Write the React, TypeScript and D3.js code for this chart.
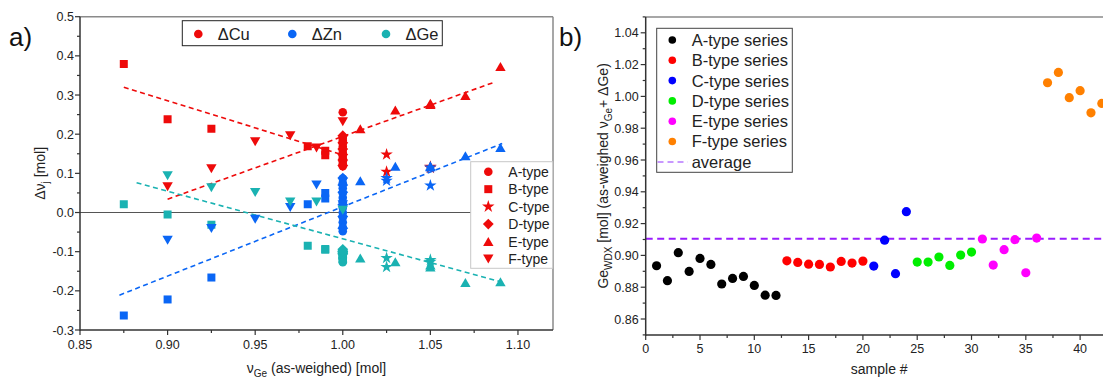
import React from "react";
import * as d3 from "d3";

// ---------- Panel a data ----------
const typeNames = ["A-type", "B-type", "C-type", "D-type", "E-type", "F-type"];
const elementNames = ["ΔCu", "ΔZn", "ΔGe"];
const elementColors = ["#ee0a0a", "#0a66f5", "#1ab2b2"];

const nuA = [1.0, 1.0, 1.0, 1.0, 1.0, 1.0, 1.0, 1.0, 1.0, 1.0, 1.0, 1.0];
const cuA = [0.256, 0.19, 0.183, 0.176, 0.168, 0.16, 0.152, 0.145, 0.138, 0.131, 0.124, 0.118];
const znA = [0.087, 0.075, 0.062, 0.05, 0.038, 0.026, 0.012, 0.0, -0.012, -0.025, -0.038, -0.048];
const geA = [-0.107, -0.116, -0.098, -0.11, -0.102, -0.106, -0.118, -0.115, -0.113, -0.119, -0.125, -0.127];

const nuB = [0.875, 0.9, 0.925, 0.98, 0.99, 0.99];
const cuB = [0.379, 0.238, 0.214, 0.169, 0.158, 0.146];
const znB = [-0.263, -0.222, -0.166, 0.021, 0.05, 0.036];
const geB = [0.021, -0.005, -0.031, -0.085, -0.095, -0.093];

const nuC = [1.025, 1.025, 1.05, 1.05];
const cuC = [0.148, 0.104, 0.117, 0.114];
const znC = [0.081, 0.088, 0.069, 0.115];
const geC = [-0.116, -0.139, -0.126, -0.121];

const nuD = [1.0, 1.0, 1.0, 1.0, 1.0, 1.0];
const cuD = [0.196, 0.178, 0.162, 0.148, 0.134, 0.12];
const znD = [0.088, 0.07, 0.052, 0.02, -0.01, -0.04];
const geD = [-0.094, -0.104, -0.101, -0.106, -0.1, -0.098];

const nuE = [1.01, 1.03, 1.05, 1.05, 1.07, 1.09];
const cuE = [0.214, 0.262, 0.279, 0.276, 0.299, 0.373];
const znE = [0.081, 0.118, 0.119, 0.117, 0.145, 0.166];
const geE = [-0.116, -0.126, -0.139, -0.134, -0.179, -0.177];

const nuF = [0.9, 0.925, 0.95, 0.97, 0.985, 1.0];
const cuF = [0.066, 0.112, 0.181, 0.196, 0.165, 0.232];
const znF = [-0.071, -0.041, -0.017, 0.013, 0.07, 0.02];
const geF = [0.094, 0.063, 0.051, 0.027, 0.027, 0.006];

// linear fits (end points)
const fitCuDownX = [0.875, 1.0];
const fitCuDownY = [0.32, 0.147];
const fitCuUpX = [0.9, 1.0873];
const fitCuUpY = [0.034, 0.334];
const fitZnX = [0.8725, 1.091];
const fitZnY = [-0.211, 0.176];
const fitGeX = [0.8823, 1.0903];
const fitGeY = [0.076, -0.177];

const xTicksA = [0.85, 0.9, 0.95, 1.0, 1.05, 1.1];
const xTickLabelsA = ["0.85", "0.90", "0.95", "1.00", "1.05", "1.10"];
const xMinorA = [0.875, 0.925, 0.975, 1.025, 1.075];
const yTicksA = [-0.3, -0.2, -0.1, 0.0, 0.1, 0.2, 0.3, 0.4, 0.5];
const yTickLabelsA = ["-0.3", "-0.2", "-0.1", "0.0", "0.1", "0.2", "0.3", "0.4", "0.5"];
const yMinorA = [-0.25, -0.15, -0.05, 0.05, 0.15, 0.25, 0.35, 0.45];

// ---------- Panel b data ----------
const seriesNamesB = ["A-type series", "B-type series", "C-type series", "D-type series", "E-type series", "F-type series"];
const seriesColorsB = ["#000000", "#ff0000", "#0000ff", "#00ee00", "#ff00ff", "#ff8000"];
const sampleA = [1, 2, 3, 4, 5, 6, 7, 8, 9, 10, 11, 12];
const geWdxA = [0.8935, 0.8841, 0.9017, 0.8899, 0.8981, 0.8943, 0.882, 0.8855, 0.8868, 0.8811, 0.875, 0.8748];
const sampleB = [13, 14, 15, 16, 17, 18, 19, 20];
const geWdxB = [0.8966, 0.8956, 0.8945, 0.8943, 0.8927, 0.8962, 0.8952, 0.8964];
const sampleC = [21, 22, 23, 24];
const geWdxC = [0.8933, 0.9096, 0.8885, 0.9275];
const sampleD = [25, 26, 27, 28, 29, 30];
const geWdxD = [0.8958, 0.8958, 0.899, 0.8937, 0.9002, 0.9021];
const sampleE = [31, 32, 33, 34, 35, 36];
const geWdxE = [0.9103, 0.8939, 0.9036, 0.9099, 0.8891, 0.9109];
const sampleF = [37, 38, 39, 40, 41, 42];
const geWdxF = [1.0086, 1.0151, 0.9992, 1.0036, 0.9897, 0.9956];
const averageB = 0.9105;

const xTicksB = [0, 5, 10, 15, 20, 25, 30, 35, 40];
const xMinorB = [2.5, 7.5, 12.5, 17.5, 22.5, 27.5, 32.5, 37.5, 42.5];
const yTicksB = [0.86, 0.88, 0.9, 0.92, 0.94, 0.96, 0.98, 1.0, 1.02, 1.04];
const yTickLabelsB = ["0.86", "0.88", "0.90", "0.92", "0.94", "0.96", "0.98", "1.00", "1.02", "1.04"];
const yMinorB = [0.85, 0.87, 0.89, 0.91, 0.93, 0.95, 0.97, 0.99, 1.01, 1.03, 1.05];

const FONT = "'Liberation Sans', Arial, sans-serif";
const AXIS = "#333";
const FRAME = "#8a8a8a";
const TXT = "#222";

function markerPath(type: number): string {
  switch (type) {
    case 0: {
      const r = 4.3;
      return `M${r},0A${r},${r} 0 1,1 ${-r},0A${r},${r} 0 1,1 ${r},0Z`;
    }
    case 1: {
      const s = 4;
      return `M${-s},${-s}H${s}V${s}H${-s}Z`;
    }
    case 2:
      return d3.symbol(d3.symbolStar, 48)() as string;
    case 3: {
      const s = 5.4;
      return `M0,${-s}L${s},0L0,${s}L${-s},0Z`;
    }
    case 4: {
      const w = 5.2, h = 4.5;
      return `M0,${-h}L${w},${h}L${-w},${h}Z`;
    }
    default: {
      const w = 5.2, h = 4.5;
      return `M0,${h}L${w},${-h}L${-w},${-h}Z`;
    }
  }
}

export default function App() {
  // Panel a scales
  const xa = d3.scaleLinear().domain([0.85, 1.12]).range([80, 553]);
  const ya = d3.scaleLinear().domain([-0.3, 0.5]).range([330, 16.7]);
  // Panel b scales
  const xb = d3.scaleLinear().domain([0, 43]).range([645.7, 1112.7]);
  const yb = d3.scaleLinear().domain([0.85, 1.05]).range([334.9, 16.9]);

  const typeData = [
    { nu: nuA, vals: [cuA, znA, geA] },
    { nu: nuB, vals: [cuB, znB, geB] },
    { nu: nuC, vals: [cuC, znC, geC] },
    { nu: nuD, vals: [cuD, znD, geD] },
    { nu: nuE, vals: [cuE, znE, geE] },
    { nu: nuF, vals: [cuF, znF, geF] },
  ];

  const fits = [
    { x: fitCuDownX, y: fitCuDownY, c: elementColors[0] },
    { x: fitCuUpX, y: fitCuUpY, c: elementColors[0] },
    { x: fitZnX, y: fitZnY, c: elementColors[1] },
    { x: fitGeX, y: fitGeY, c: elementColors[2] },
  ];
  const line = d3
    .line<[number, number]>()
    .x((d) => xa(d[0]))
    .y((d) => ya(d[1]));

  const seriesB = [
    { x: sampleA, y: geWdxA },
    { x: sampleB, y: geWdxB },
    { x: sampleC, y: geWdxC },
    { x: sampleD, y: geWdxD },
    { x: sampleE, y: geWdxE },
    { x: sampleF, y: geWdxF },
  ];

  const [ax0, ax1] = xa.range();
  const [ay0, ay1] = ya.range();
  const bx0 = xb.range()[0];
  const bx1 = 1103;
  const [by0, by1] = yb.range();

  return (
    <svg
      width={1103}
      height={379}
      style={{ position: "absolute", left: 0, top: 0, background: "#fff" }}
      fontFamily={FONT}
    >
      <rect x={0} y={0} width={1103} height={379} fill="#fff" />
      {/* ================= Panel a ================= */}
      <text x={9} y={46} fontSize={26} fill="#111">a)</text>
      <defs>
        <clipPath id="clipA">
          <rect x={ax0} y={ay1} width={ax1 - ax0} height={ay0 - ay1} />
        </clipPath>
        <clipPath id="clipB">
          <rect x={bx0} y={by1} width={bx1 - bx0} height={by0 - by1} />
        </clipPath>
      </defs>
      {/* frame */}
      <line x1={ax0} x2={ax1} y1={ay1} y2={ay1} stroke={FRAME} strokeWidth={1.5} />
      <line x1={ax1} x2={ax1} y1={ay1} y2={ay0} stroke={FRAME} strokeWidth={1.5} />
      {/* zero line */}
      <line x1={ax0} x2={ax1} y1={ya(0)} y2={ya(0)} stroke="#555" strokeWidth={1} />
      {/* fits */}
      <g clipPath="url(#clipA)">
        {fits.map((f, i) => (
          <path
            key={i}
            d={line(f.x.map((v, j) => [v, f.y[j]] as [number, number])) as string}
            fill="none"
            stroke={f.c}
            strokeWidth={1.6}
            strokeDasharray="5,3.5"
          />
        ))}
        {typeData.map((t, ti) =>
          t.vals.map((vals, ei) =>
            vals.map((v, k) => (
              <path
                key={`${ti}-${ei}-${k}`}
                d={markerPath(ti)}
                transform={`translate(${xa(t.nu[k])},${ya(v)})`}
                fill={elementColors[ei]}
              />
            ))
          )
        )}
      </g>
      {/* axes */}
      <line x1={ax0} x2={ax0} y1={ay1} y2={ay0 + 0.75} stroke={AXIS} strokeWidth={1.5} />
      <line x1={ax0} x2={ax1} y1={ay0} y2={ay0} stroke={AXIS} strokeWidth={1.5} />
      {yTicksA.map((t, i) => (
        <g key={`ya${i}`}>
          <line x1={ax0 - 5} x2={ax0} y1={ya(t)} y2={ya(t)} stroke={AXIS} strokeWidth={1.2} />
          <text x={ax0 - 6} y={ya(t)} dy="0.36em" textAnchor="end" fontSize={12.5} fill={TXT}>
            {yTickLabelsA[i]}
          </text>
        </g>
      ))}
      {yMinorA.map((t, i) => (
        <line key={`yam${i}`} x1={ax0 - 3} x2={ax0} y1={ya(t)} y2={ya(t)} stroke={AXIS} strokeWidth={1.2} />
      ))}
      {xTicksA.map((t, i) => (
        <g key={`xa${i}`}>
          <line x1={xa(t)} x2={xa(t)} y1={ay0} y2={ay0 + 5} stroke={AXIS} strokeWidth={1.2} />
          <text x={xa(t)} y={349} textAnchor="middle" fontSize={12.5} fill={TXT}>
            {xTickLabelsA[i]}
          </text>
        </g>
      ))}
      {xMinorA.map((t, i) => (
        <line key={`xam${i}`} x1={xa(t)} x2={xa(t)} y1={ay0} y2={ay0 + 3} stroke={AXIS} strokeWidth={1.2} />
      ))}
      {/* axis titles */}
      <text x={(ax0 + ax1) / 2} y={373} textAnchor="middle" fontSize={14} fill={TXT}>
        ν<tspan dy={4} fontSize={10}>Ge</tspan>
        <tspan dy={-4}> (as-weighed) [mol]</tspan>
      </text>
      <text transform={`translate(45,${(ay0 + ay1) / 2}) rotate(-90)`} textAnchor="middle" fontSize={14} fill={TXT}>
        Δν<tspan dy={4} fontSize={10}>j</tspan>
        <tspan dy={-4}> [mol]</tspan>
      </text>
      {/* top legend */}
      <rect x={182.3} y={20.7} width={260} height={25} fill="#fff" stroke="#222" strokeWidth={1} />
      {elementNames.map((n, i) => {
        const mx = [198.3, 292.3, 386][i];
        return (
          <g key={`le${i}`}>
            <circle cx={mx} cy={34} r={4.3} fill={elementColors[i]} />
            <text x={mx + 19.4} y={34} dy="0.36em" fontSize={16.5} fill={TXT}>
              {n}
            </text>
          </g>
        );
      })}
      {/* type legend */}
      <rect x={470.7} y={161.7} width={82} height={106.6} fill="#fff" stroke="#c8c8c8" strokeWidth={1} />
      {typeNames.map((n, i) => {
        const cy = 171.7 + i * 17.46;
        return (
          <g key={`lt${i}`}>
            <path d={markerPath(i)} transform={`translate(488.3,${cy})`} fill={elementColors[0]} />
            <text x={508.3} y={cy} dy="0.36em" fontSize={14} fill={TXT}>
              {n}
            </text>
          </g>
        );
      })}

      {/* ================= Panel b ================= */}
      <text x={559} y={46} fontSize={26} fill="#111">b)</text>
      <line x1={bx0} x2={bx1} y1={by1} y2={by1} stroke={FRAME} strokeWidth={1.5} />
      <g clipPath="url(#clipB)">
        <line
          x1={bx0}
          x2={bx1}
          y1={yb(averageB)}
          y2={yb(averageB)}
          stroke="#9a1cff"
          strokeWidth={2}
          strokeDasharray="7,4.5"
        />
        {seriesB.map((s, si) =>
          s.x.map((xv, k) => (
            <circle key={`b${si}-${k}`} cx={xb(xv)} cy={yb(s.y[k])} r={4.6} fill={seriesColorsB[si]} />
          ))
        )}
      </g>
      <line x1={bx0} x2={bx0} y1={by1} y2={by0 + 0.75} stroke={AXIS} strokeWidth={1.5} />
      <line x1={bx0} x2={bx1} y1={by0} y2={by0} stroke={AXIS} strokeWidth={1.5} />
      {yTicksB.map((t, i) => (
        <g key={`yb${i}`}>
          <line x1={bx0 - 5} x2={bx0} y1={yb(t)} y2={yb(t)} stroke={AXIS} strokeWidth={1.2} />
          <text x={bx0 - 7} y={yb(t)} dy="0.36em" textAnchor="end" fontSize={12.5} fill={TXT}>
            {yTickLabelsB[i]}
          </text>
        </g>
      ))}
      {yMinorB.map((t, i) => (
        <line key={`ybm${i}`} x1={bx0 - 3} x2={bx0} y1={yb(t)} y2={yb(t)} stroke={AXIS} strokeWidth={1.2} />
      ))}
      {xTicksB.map((t, i) => (
        <g key={`xb${i}`}>
          <line x1={xb(t)} x2={xb(t)} y1={by0} y2={by0 + 5} stroke={AXIS} strokeWidth={1.2} />
          <text x={xb(t)} y={353} textAnchor="middle" fontSize={12.5} fill={TXT}>
            {String(t)}
          </text>
        </g>
      ))}
      {xMinorB.map((t, i) => (
        <line key={`xbm${i}`} x1={xb(t)} x2={xb(t)} y1={by0} y2={by0 + 3} stroke={AXIS} strokeWidth={1.2} />
      ))}
      <text x={(xb.range()[0] + xb.range()[1]) / 2} y={374} textAnchor="middle" fontSize={14} fill={TXT}>
        sample #
      </text>
      <text transform={`translate(608,${(by0 + by1) / 2}) rotate(-90)`} textAnchor="middle" fontSize={14} fill={TXT}>
        Ge<tspan dy={4} fontSize={10}>WDX</tspan>
        <tspan dy={-4}> [mol] (as-weighed ν</tspan>
        <tspan dy={4} fontSize={10}>Ge</tspan>
        <tspan dy={-4}>+ ΔGe)</tspan>
      </text>
      {/* legend b */}
      <rect x={656.7} y={28.3} width={135.6} height={144} fill="#fff" stroke="#444" strokeWidth={1} />
      {seriesNamesB.map((n, i) => {
        const cy = 40 + i * 20.3;
        return (
          <g key={`lb${i}`}>
            <circle cx={672.3} cy={cy} r={3.8} fill={seriesColorsB[i]} />
            <text x={691.7} y={cy} dy="0.36em" fontSize={16.5} fill={TXT}>
              {n}
            </text>
          </g>
        );
      })}
      <line x1={657.5} x2={687.7} y1={162} y2={162} stroke="#b777ff" strokeWidth={1.6} strokeDasharray="6,4" />
      <text x={691.7} y={162} dy="0.36em" fontSize={16.5} fill={TXT}>
        average
      </text>
    </svg>
  );
}
